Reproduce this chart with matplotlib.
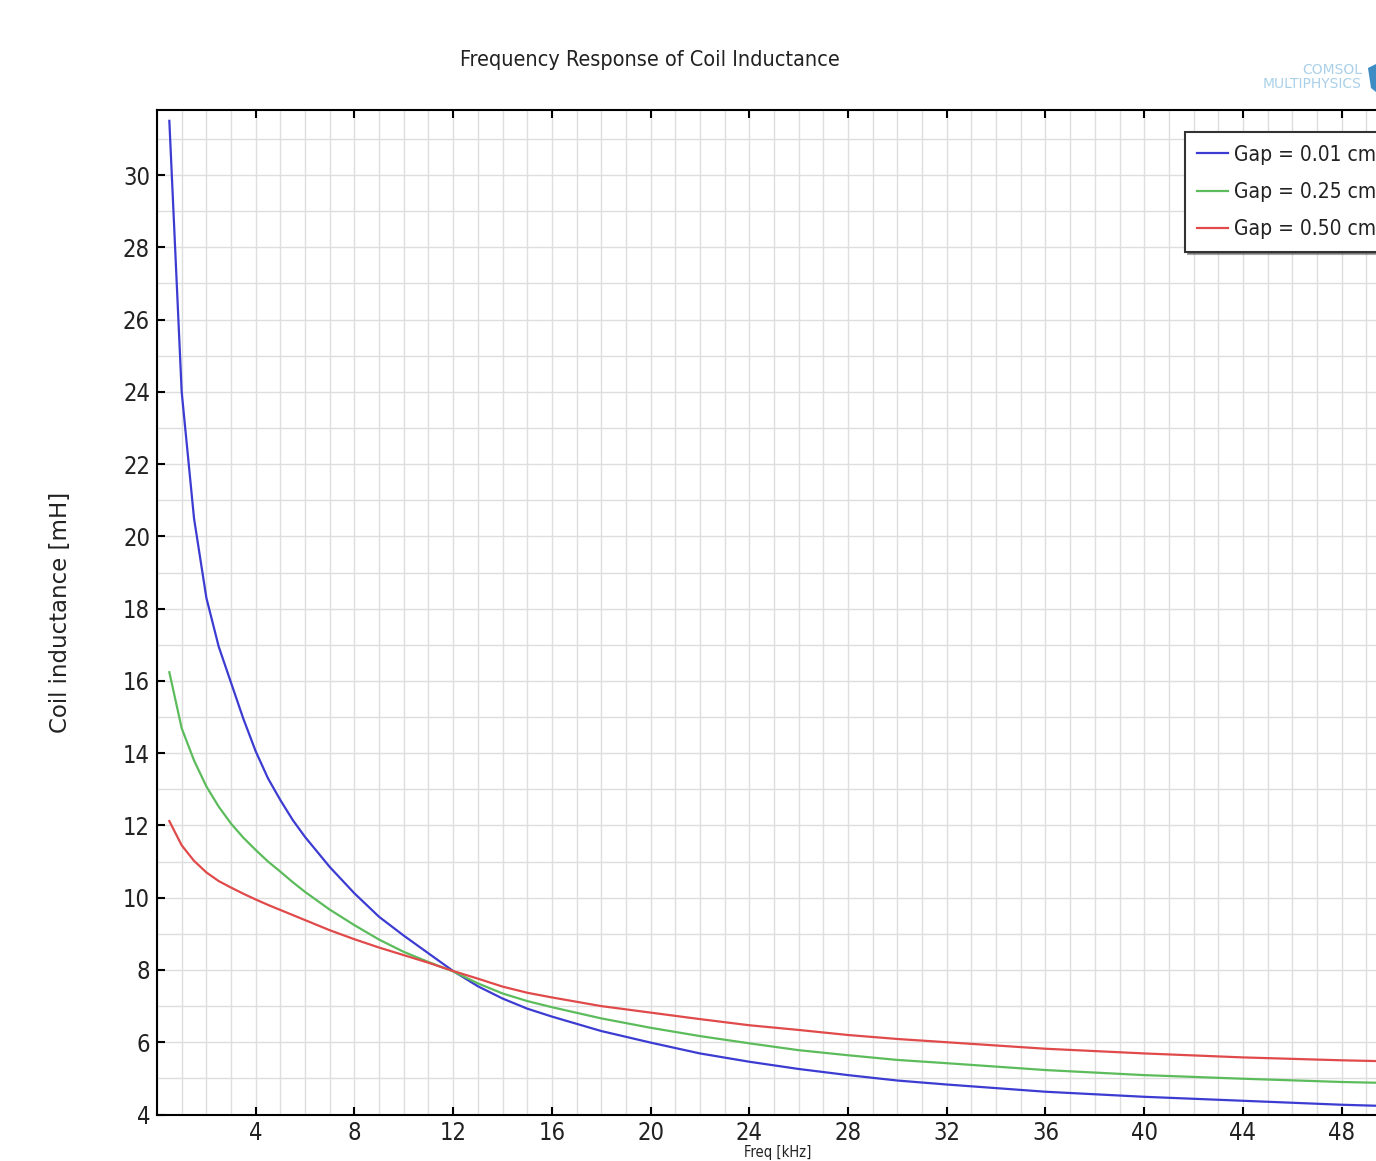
import numpy as np
import matplotlib
matplotlib.use('Agg')
import matplotlib.pyplot as plt
from matplotlib.ticker import MultipleLocator
from matplotlib.patches import Polygon

# values (kHz, mH)
freq = [0.5, 1, 1.5, 2, 2.5, 3, 3.5, 4, 4.5, 5, 5.5, 6, 7, 8, 9, 10, 11, 12,
        13, 14, 15, 16, 18, 20, 22, 24, 26, 28, 30, 32, 36, 40, 44, 48, 50]
L_gap001 = [31.5, 24.0, 20.5, 18.3, 16.95, 15.95, 14.95, 14.05, 13.3, 12.7, 12.15, 11.68, 10.85, 10.12, 9.47, 8.95, 8.46, 7.97,
            7.55, 7.21, 6.93, 6.71, 6.31, 5.99, 5.69, 5.46, 5.26, 5.09, 4.94, 4.83, 4.63, 4.49, 4.38, 4.27, 4.23]
L_gap025 = [16.24, 14.69, 13.8, 13.08, 12.52, 12.05, 11.66, 11.32, 11.0, 10.72, 10.43, 10.16, 9.67, 9.24, 8.84, 8.5, 8.22, 7.96,
            7.63, 7.35, 7.14, 6.97, 6.66, 6.4, 6.17, 5.97, 5.78, 5.64, 5.51, 5.42, 5.23, 5.09, 4.99, 4.9, 4.87]
L_gap050 = [12.12, 11.45, 11.02, 10.7, 10.46, 10.28, 10.11, 9.95, 9.8, 9.66, 9.52, 9.38, 9.1, 8.85, 8.62, 8.41, 8.2, 7.97,
            7.76, 7.54, 7.37, 7.24, 7.0, 6.82, 6.64, 6.47, 6.34, 6.2, 6.09, 6.0, 5.82, 5.69, 5.58, 5.5, 5.47]
labels = ['Gap = 0.01 cm', 'Gap = 0.25 cm', 'Gap = 0.50 cm']
colors = ['#3c3cd2', '#5cbc5c', '#e04a4a']

narrow = dict(family='DejaVu Sans', stretch='condensed')

W, H = 1376, 1161
fig = plt.figure(figsize=(W / 100, H / 100), dpi=100)
# plot box in pixels (right edge runs past the picture, like the reference crop)
px0, px1 = 157, 1391
py0, py1 = 110, 1114.5
ax = fig.add_axes([px0 / W, 1 - py1 / H, (px1 - px0) / W, (py1 - py0) / H])

for ys, lab, c in zip([L_gap001, L_gap025, L_gap050], labels, colors):
    ax.plot(freq, ys, color=c, lw=1.6, label=lab)

ax.set_xlim(0, 50)
ax.set_ylim(4, 31.8)
ax.set_xticks(np.arange(4, 50, 4))
ax.set_yticks(np.arange(4, 31, 2))
ax.xaxis.set_minor_locator(MultipleLocator(1))
ax.yaxis.set_minor_locator(MultipleLocator(1))
ax.grid(which='both', color='#dedede', lw=1.0)
ax.set_axisbelow(True)
ax.tick_params(which='major', direction='in', length=6, width=1.5,
               top=True, right=True, labelsize=17, pad=5)
ax.tick_params(which='minor', length=0)
for t in ax.get_xticklabels() + ax.get_yticklabels():
    t.set_fontfamily(narrow['family'])
    t.set_fontstretch(narrow['stretch'])
    t.set_color('#222222')
for s in ax.spines.values():
    s.set_linewidth(1.5)

leg = ax.legend(loc='upper left', bbox_to_anchor=(0.833, 0.978),
                prop=dict(size=15, **narrow), fancybox=False,
                shadow=True, handlelength=1.45, borderpad=0.6,
                labelspacing=0.83, handletextpad=0.3, borderaxespad=0)
leg.get_frame().set_edgecolor('#333333')
leg.get_frame().set_linewidth(1.5)
for t in leg.get_texts():
    t.set_color('#222222')

fig.text(650 / W, 1 - 60 / H, 'Frequency Response of Coil Inductance',
         ha='center', va='center', fontsize=15.5, color='#222222', **narrow)
fig.text(60 / W, 1 - 612 / H, 'Coil inductance [mH]', rotation=90,
         ha='center', va='center', fontsize=16.5, color='#222222')
# x label sits right at the bottom edge (squeezed to stay inside the picture)
fig.text(778 / W, 1 - 1160 / H, 'Freq [kHz]', ha='center', va='bottom',
         fontsize=10.5, color='#222222', **narrow)

# COMSOL watermark, top right
fig.text(1362 / W, 1 - 70 / H, 'COMSOL', ha='right', va='center',
         fontsize=10, color='#a9d0e8')
fig.text(1362 / W, 1 - 84 / H, 'MULTIPHYSICS', ha='right', va='center',
         fontsize=10, color='#a9d0e8')
fig.patches.append(Polygon([[1368 / W, 1 - 68 / H], [1376 / W, 1 - 64 / H],
                            [1376 / W, 1 - 92 / H], [1371 / W, 1 - 88 / H]],
                           closed=True, transform=fig.transFigure,
                           facecolor='#3d8cc4', edgecolor='none'))

fig.savefig('out.png', dpi=100)
